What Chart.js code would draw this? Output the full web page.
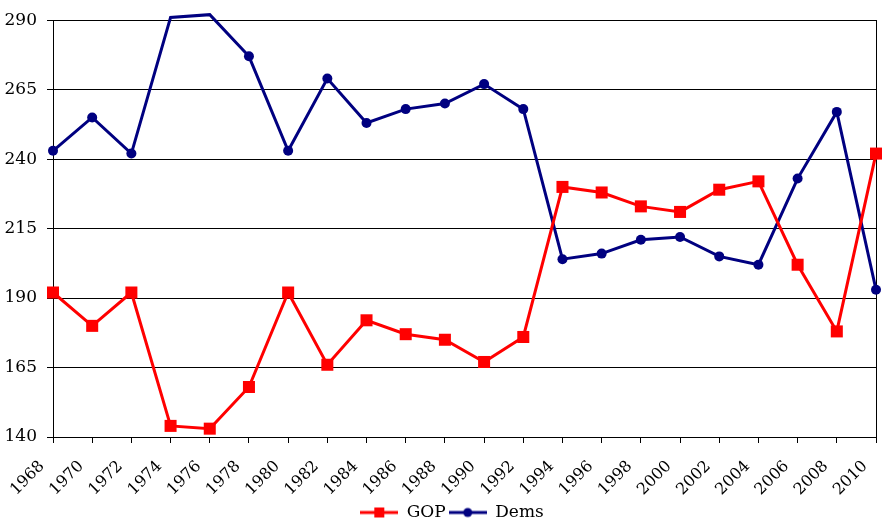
<!DOCTYPE html>
<html>
<head>
<meta charset="utf-8">
<script src="https://cdn.jsdelivr.net/npm/chart.js@4/dist/chart.umd.min.js"></script>
<style>
html,body{margin:0;padding:0;background:#fff;}
#wrap{width:885px;height:527px;position:relative;}
</style>
</head>
<body>
<div id="wrap"><canvas id="c" width="885" height="527"></canvas></div>
<script>
const years = ['1968','1970','1972','1974','1976','1978','1980','1982','1984','1986','1988','1990','1992','1994','1996','1998','2000','2002','2004','2006','2008','2010'];
const gopSeats = [192,180,192,144,143,158,192,166,182,177,175,167,176,230,228,223,221,229,232,202,178,242];
const demSeats = [243,255,242,291,292,277,243,269,253,258,260,267,258,204,206,211,212,205,202,233,257,193];
const yTicks = [140,165,190,215,240,265,290];

const RED = '#FF0000', NAVY = '#000080';
const FONT = '"DejaVu Serif", serif';
const yMin = yTicks[0], yMax = yTicks[yTicks.length-1];

function legendIcon(color, style){
  const c = document.createElement('canvas');
  c.width = 38; c.height = 12;
  const g = c.getContext('2d');
  g.strokeStyle = color; g.lineWidth = 3;
  g.beginPath(); g.moveTo(0,6); g.lineTo(38,6); g.stroke();
  g.fillStyle = color;
  if (style === 'rect') { g.fillRect(14,1,10,10); }
  else { g.beginPath(); g.arc(19,6,4.5,0,Math.PI*2); g.fill(); }
  return c;
}
const icons = {GOP: legendIcon(RED,'rect'), Dems: legendIcon(NAVY,'circle')};

function hideAbove(r){ return ctx => (ctx.raw > yMax ? 0 : r); }

const shiftLegend = {
  id:'shiftLegend',
  afterLayout(chart){
    const l = chart.legend;
    if (l){ l.left += 14; l.right += 14; l.top += 4; l.bottom += 4; }
  }
};

new Chart(document.getElementById('c'), {
  type: 'line',
  data: {
    labels: years,
    datasets: [
      {label:'GOP', data: gopSeats, borderColor: RED, backgroundColor: RED, borderWidth: 3,
       pointStyle:'rect', pointRadius: hideAbove(8.5), pointHoverRadius: 8.5, pointBorderWidth:0, tension:0, clip:false},
      {label:'Dems', data: demSeats, borderColor: NAVY, backgroundColor: NAVY, borderWidth: 3,
       pointStyle:'circle', pointRadius: hideAbove(5), pointHoverRadius: 5, pointBorderWidth:0, tension:0, clip:false}
    ]
  },
  plugins:[shiftLegend],
  options: {
    responsive:false, animation:false,
    layout:{padding:{top:20,right:9,left:0,bottom:0}},
    plugins:{
      tooltip:{enabled:false},
      legend:{
        position:'bottom',
        labels:{
          usePointStyle:true, pointStyleWidth:38, padding:3, color:'#000',
          font:{family:FONT, size:17},
          generateLabels: (chart) => chart.data.datasets.map((ds,i)=>({
            text: ds.label, pointStyle: icons[ds.label], fillStyle: ds.borderColor,
            strokeStyle: ds.borderColor, lineWidth:0, hidden:false, datasetIndex:i, fontColor:'#000'
          }))
        }
      }
    },
    scales:{
      x:{
        offset:false,
        grid:{drawOnChartArea:false, color:'#000', tickLength:6, tickColor:'#000'},
        border:{color:'#000', width:1},
        ticks:{color:'#000', font:{family:FONT, size:16}, maxRotation:45, minRotation:45, autoSkip:false, padding:14, labelOffset:-11},
        afterFit: s => { s.height = 60; s.paddingLeft = 0; s.paddingRight = 0; }
      },
      y:{
        min:yMin, max:yMax,
        afterBuildTicks: s => { s.ticks = yTicks.map(v=>({value:v})); },
        grid:{color:'#000', tickLength:6, tickColor:'#000', lineWidth:1},
        border:{color:'#000', width:1},
        ticks:{color:'#000', font:{family:FONT, size:17}, padding:10},
        afterFit: s => { s.width = 53; }
      },
      y2:{
        position:'right', min:yMin, max:yMax,
        grid:{drawOnChartArea:false, drawTicks:false},
        border:{color:'#000', width:1},
        ticks:{display:false},
        afterFit: s => { s.width = 0; }
      }
    }
  }
});
</script>
</body>
</html>
